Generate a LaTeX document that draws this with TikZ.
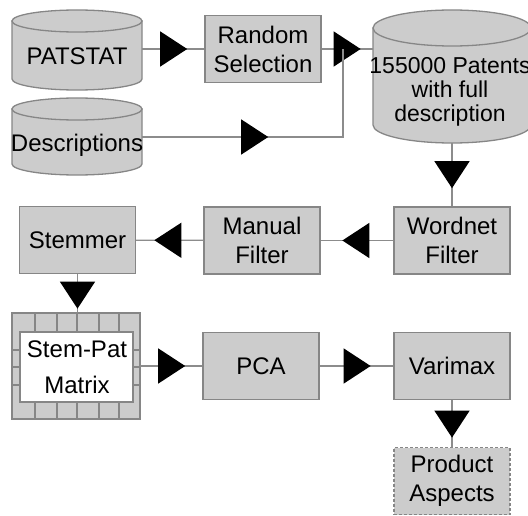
\documentclass[tikz,border=0pt]{standalone}
\usepackage{fontspec}
\setmainfont{Liberation Sans}
\usetikzlibrary{arrows.meta,decorations.markings}
\definecolor{boxfill}{HTML}{CCCCCC}
\definecolor{boxline}{HTML}{868686}
\definecolor{wirecol}{HTML}{8C8C8C}
\tikzset{
  lbl/.style={inner sep=0pt, align=center, font=\fontsize{24}{29}\selectfont},
  procbox/.style={lbl, draw=boxline, line width=1.3pt, fill=boxfill,
    minimum width=116pt, minimum height=67pt},
  dbarea/.style={inner sep=0pt},
  cylbody/.style={draw=boxline, line width=1.3pt, fill=boxfill},
  wire/.style={draw=wirecol, line width=1.3pt},
  tipat/.style={postaction={decorate}, decoration={markings,
    mark=at position #1 with {\arrow{Triangle[length=27pt,width=35pt,color=black]}}}},
}
\begin{document}
\begin{tikzpicture}[x=1pt,y=-1pt]
\clip (0,0) rectangle (528,516);

% ---------- cylinders ----------
% PATSTAT: x 12-142, top 10, bottom 90, ry 11
\filldraw[cylbody] (12,21) -- (12,79) .. controls (12,85.08) and (41.1,90) .. (77,90)
  .. controls (112.9,90) and (142,85.08) .. (142,79) -- (142,21) -- cycle;
\filldraw[cylbody] (77,21) ellipse [x radius=65, y radius=11];
\node[dbarea, minimum width=130pt, minimum height=80pt] (patstat) at (77,49) {};
\node[lbl, anchor=base] (patstatlbl) at (77,65) {PATSTAT};

% Descriptions: x 12-142, top 98, bottom 175
\filldraw[cylbody] (12,109) -- (12,164) .. controls (12,170.08) and (41.1,175) .. (77,175)
  .. controls (112.9,175) and (142,170.08) .. (142,164) -- (142,109) -- cycle;
\filldraw[cylbody] (77,109) ellipse [x radius=65, y radius=11];
\node[dbarea, minimum width=130pt, minimum height=77pt] (desc) at (77,137) {};
\node[lbl, anchor=base] (desclbl) at (77,152) {Descriptions};

% 155000 Patents: x 373-531, top 10, bottom 143, ry 18
\filldraw[cylbody] (373,28) -- (373,125) .. controls (373,134.94) and (408.4,143) .. (452,143)
  .. controls (495.6,143) and (531,134.94) .. (531,125) -- (531,28) -- cycle;
\filldraw[cylbody] (452,28) ellipse [x radius=79, y radius=18];
\node[dbarea, minimum width=158pt, minimum height=133pt] (big) at (452,76.5) {};
\node[lbl, font=\fontsize{23}{24}\selectfont] (biglbl) at (450,92) {155000 Patents\\with full\\description};

% ---------- process boxes ----------
\node[procbox] (rand) at (263,49) {Random\\Selection};
\node[procbox] (stem) at (77.5,240) {Stemmer};
\node[procbox] (manual) at (262,240.5) {Manual\\Filter};
\node[procbox] (wordnet) at (452,240.5) {Wordnet\\Filter};
\node[procbox] (pca) at (261,366) {PCA};
\node[procbox] (varimax) at (452,366) {Varimax};
\node[procbox, dashed, dash pattern=on 3pt off 2pt] (product) at (452,481) {Product\\Aspects};

% ---------- Stem-Pat matrix ----------
\filldraw[cylbody] (12,313) rectangle (140,419);
\filldraw[draw=boxline, line width=1.1pt, fill=white] (20,332) rectangle (133,402);
\foreach \xx in {35,57,77,99,119} {
  \draw[boxline, line width=1.1pt] (\xx,313) -- (\xx,332);
  \draw[boxline, line width=1.1pt] (\xx,402) -- (\xx,419);
}
\foreach \yy in {350,367,385} {
  \draw[boxline, line width=1.1pt] (12,\yy) -- (20,\yy);
  \draw[boxline, line width=1.1pt] (133,\yy) -- (140,\yy);
}
\node[dbarea, minimum width=128pt, minimum height=106pt] (spm) at (76,366) {};
\node[lbl, font=\fontsize{24}{36}\selectfont] (spmlbl) at (77,367) {Stem-Pat\\Matrix};

% ---------- connectors ----------
\coordinate (junction) at (343,49);
\draw[wire, tipat=45pt] (patstat) -- (rand);
\draw[wire, tipat=39pt] (rand.east) -- (rand.east -| big.west);
\draw[wire, tipat=126pt] (desc.east) -| (junction);
\draw[wire, tipat=45pt] (big) -- (wordnet);
\draw[wire, tipat=51pt] (wordnet) -- (manual);
\draw[wire, tipat=49pt] (manual) -- (stem);
\draw[wire, tipat=34.5pt] (stem) -- (stem |- spm.north);
\draw[wire, tipat=45pt] (spm.east |- pca.west) -- (pca.west);
\draw[wire, tipat=51pt] (pca) -- (varimax);
\draw[wire, tipat=37.5pt] (varimax) -- (product);
\end{tikzpicture}
\end{document}
